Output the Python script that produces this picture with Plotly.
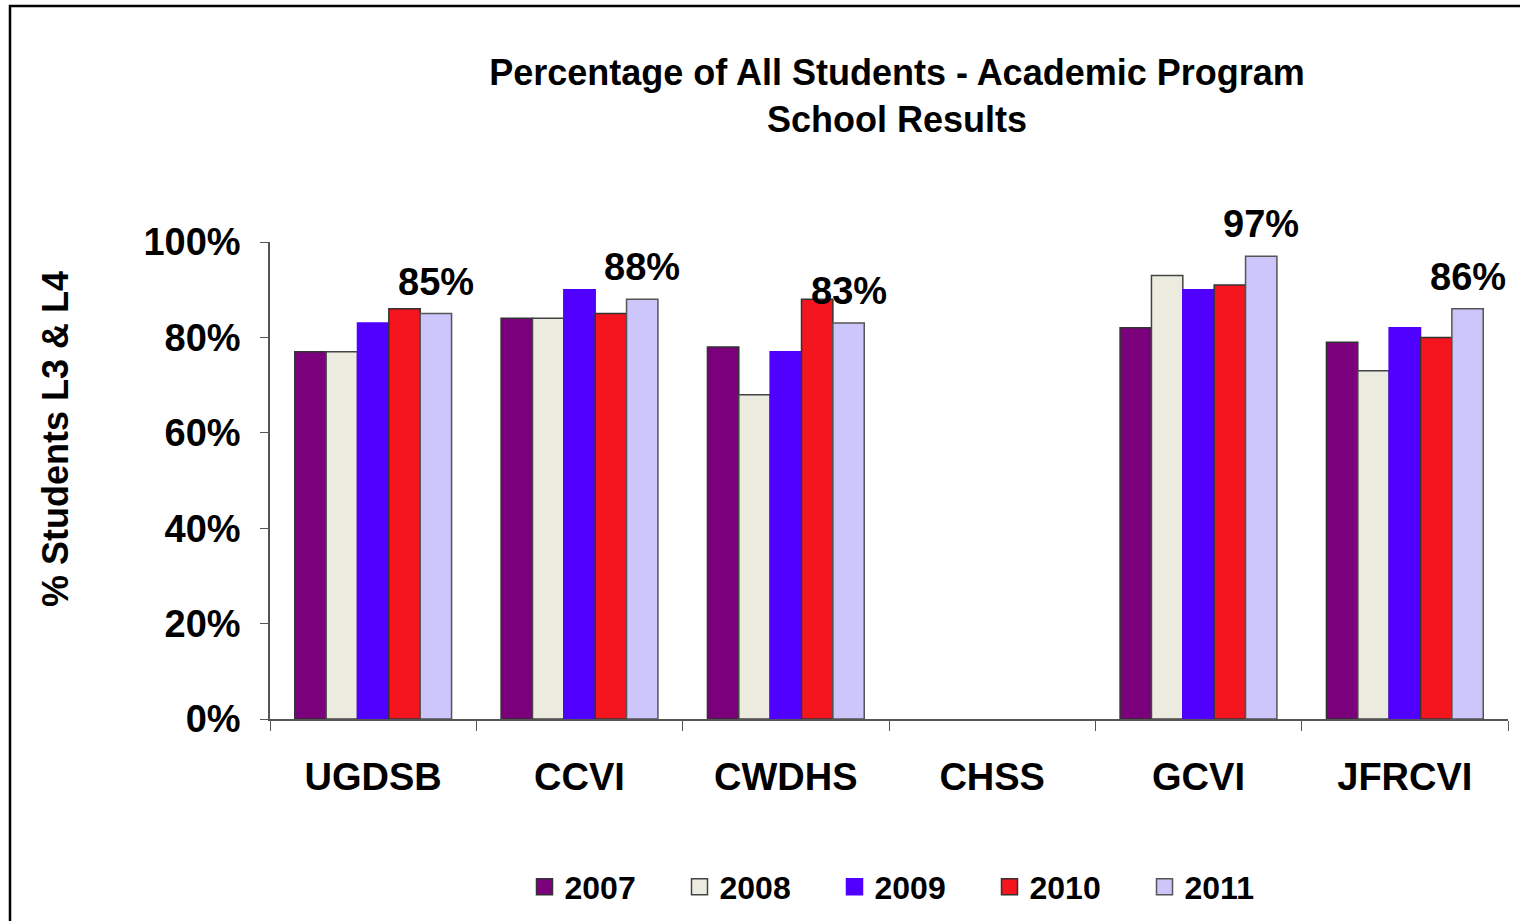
import plotly.graph_objects as go

# Data
SCHOOLS = ["UGDSB", "CCVI", "CWDHS", "CHSS", "GCVI", "JFRCVI"]
YEARS = ["2007", "2008", "2009", "2010", "2011"]
V2007 = [0.77, 0.84, 0.78, None, 0.82, 0.79]
V2008 = [0.77, 0.84, 0.68, None, 0.93, 0.73]
V2009 = [0.83, 0.90, 0.77, None, 0.90, 0.82]
V2010 = [0.86, 0.85, 0.88, None, 0.91, 0.80]
V2011 = [0.85, 0.88, 0.83, None, 0.97, 0.86]

COLORS = ["#7B007B", "#EBEBE0", "#5000FF", "#F5151F", "#CCC6FA"]
EDGES = ["#333333", "#444444", "#5000FF", "#333333", "#555555"]
FONT = "Liberation Sans, Arial, sans-serif"

W, H = 1520, 921
L, R, T, B = 270, 12, 242, 202
pw = W - L - R
ph = H - T - B
BARGAP = 0.24


def px_x(x):
    # page pixel -> paper x
    return (x - L) / pw


def px_y(y):
    # page pixel -> paper y
    return (H - B - y) / ph


fig = go.Figure()
for year, vals, col, edge in zip(YEARS, [V2007, V2008, V2009, V2010, V2011], COLORS, EDGES):
    fig.add_trace(go.Bar(
        name=year, x=SCHOOLS, y=vals, showlegend=False,
        marker=dict(color=col, line=dict(color=edge, width=1.5)),
    ))
    # legend entry with a larger square swatch
    fig.add_trace(go.Scatter(
        name=year, x=[None], y=[None], mode="markers",
        marker=dict(symbol="square", size=16, color=col, line=dict(color=edge, width=1.5)),
    ))

# 2011 value labels, sitting over the last bar of each group
bar_w = pw / len(SCHOOLS) * (1 - BARGAP) / len(YEARS)
for school, v in zip(SCHOOLS, V2011):
    if v is None:
        continue
    fig.add_annotation(
        x=school, y=v, text=f"{v:.0%}", showarrow=False,
        xanchor="center", yanchor="bottom",
        xshift=2 * bar_w, yshift=9,
        font=dict(family=FONT, size=38, color="black", weight="bold"),
    )

# outer chart frame (left and top edges visible)
fig.add_shape(
    type="rect", xref="paper", yref="paper",
    x0=px_x(10), x1=px_x(1560), y0=px_y(980), y1=px_y(6),
    line=dict(color="black", width=2.5), fillcolor="rgba(0,0,0,0)", layer="below",
)

fig.add_annotation(
    text="% Students L3 & L4", textangle=-90, showarrow=False,
    xref="paper", yref="paper", x=px_x(55), y=px_y(439),
    xanchor="center", yanchor="middle",
    font=dict(family=FONT, size=36, color="black", weight="bold"),
)

fig.update_layout(
    width=W, height=H,
    margin=dict(l=L, r=R, t=T, b=B),
    plot_bgcolor="white", paper_bgcolor="white",
    barmode="group", bargap=BARGAP, bargroupgap=0,
    font=dict(family=FONT, color="black"),
    title=dict(
        text="Percentage of All Students - Academic Program<br>School Results",
        font=dict(family=FONT, size=36, color="black", weight="bold"),
        x=px_x(897), xref="paper", xanchor="center",
        y=1 - 85 / H, yanchor="top",
    ),
    showlegend=True,
    legend=dict(
        orientation="h", x=px_x(912), xanchor="center",
        yref="container", y=1 - 887 / H, yanchor="middle",
        font=dict(family=FONT, size=32, color="black", weight="bold"),
        entrywidth=110, entrywidthmode="pixels",
        traceorder="normal", itemsizing="trace",
    ),
)

fig.update_yaxes(
    range=[0, 1], tickformat=".0%", dtick=0.2,
    showgrid=False, zeroline=False,
    showline=True, linecolor="#555555", linewidth=1.5,
    ticks="outside", ticklen=8, tickcolor="#555555",
    ticklabelstandoff=12,
    tickfont=dict(family=FONT, size=38, color="black", weight="bold"),
)
fig.update_xaxes(
    showgrid=False, showline=True, linecolor="#555555", linewidth=1.5,
    ticks="outside", ticklen=10, tickcolor="#555555", tickson="boundaries",
    ticklabelstandoff=24,
    tickfont=dict(family=FONT, size=38, color="black", weight="bold"),
)

fig.write_html(
    "out.html",
    config={"displayModeBar": False},
    post_script="document.body.style.margin='0';",
)
